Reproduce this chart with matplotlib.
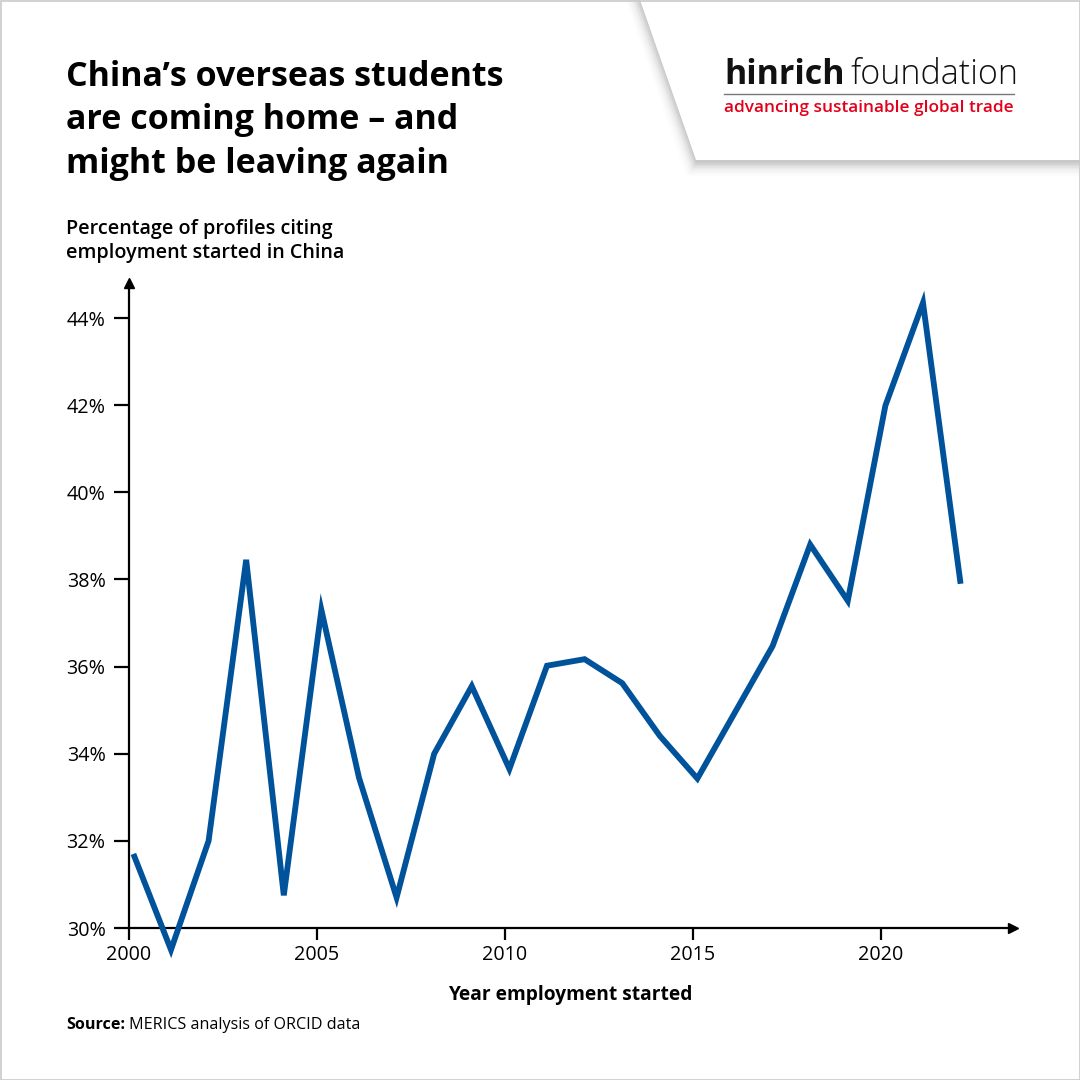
import matplotlib
matplotlib.use("Agg")
import matplotlib.pyplot as plt
from matplotlib.patches import Polygon, Rectangle
import numpy as np

plt.rcParams['font.family'] = ['Open Sans', 'DejaVu Sans']

# ---------------- data ----------------
years = [2000, 2001, 2002, 2003, 2004, 2005, 2006, 2007, 2008, 2009, 2010,
         2011, 2012, 2013, 2014, 2015, 2016, 2017, 2018, 2019, 2020, 2021, 2022]
share = [31.7, 29.5, 32.0, 38.45, 30.75, 37.3, 33.45, 30.7, 34.0, 35.55, 33.65,
         36.02, 36.17, 35.62, 34.41, 33.43, 34.95, 36.47, 38.8, 37.51, 41.99, 44.35, 37.9]
x_ticks = [2000, 2005, 2010, 2015, 2020]
y_ticks = [30, 32, 34, 36, 38, 40, 42, 44]

title = "China\u2019s overseas students\nare coming home \u2013 and\nmight be leaving again"
y_title = "Percentage of profiles citing\nemployment started in China"
x_title = "Year employment started"

LINE = "#00529B"
RED = "#E2001A"
W = 1080

fig = plt.figure(figsize=(10.8, 10.8), dpi=100)
fig.patch.set_facecolor("white")

def px(x, y):
    return x / W, 1 - y / W

# ---------------- logo box with shadow ----------------
bg = fig.add_axes([0, 0, 1, 1], zorder=0)
bg.set_xlim(0, W); bg.set_ylim(W, 0); bg.axis("off")
for i, a in enumerate(np.linspace(0.08, 0.01, 10)):
    d = 1 + i * 1.6
    bg.add_patch(Polygon([(640 - d, 0), (W, 0), (W, 162 + d), (697 - d * 0.7, 162 + d)],
                         closed=True, facecolor="#000000", alpha=a * 0.5, edgecolor="none"))
bg.add_patch(Polygon([(640, 0), (W, 0), (W, 160), (696, 160)], closed=True,
                     facecolor="white", edgecolor="none"))
bg.add_patch(Rectangle((0.5, 0.5), W - 1, W - 1, facecolor="none", edgecolor="#c9c9c9", lw=1.2))

# ---------------- main axes ----------------
x0, x1 = 128.5, 1013
y0, y1 = 928, 283
ax = fig.add_axes([x0 / W, 1 - y0 / W, (x1 - x0) / W, (y0 - y1) / W], zorder=2)
ax.set_facecolor("none")
x_off = 0.13
ax.plot(np.array(years) + x_off, share, color=LINE, lw=4.2, solid_joinstyle="miter",
        solid_capstyle="butt", clip_on=False, zorder=3)
ax.set_xlim(2000, 2000 + (x1 - x0) / 37.6)
ax.set_ylim(30, 30 + (y0 - y1) / 43.57)
for s in ["top", "right"]:
    ax.spines[s].set_visible(False)
for s in ["left", "bottom"]:
    ax.spines[s].set_linewidth(1.6)
    ax.spines[s].set_color("black")
ax.set_xticks(x_ticks)
ax.set_xticklabels([str(t) for t in x_ticks])
ax.set_yticks(y_ticks)
ax.set_yticklabels([f"{t}%" for t in y_ticks])
ax.tick_params(axis="y", length=11, width=1.6, pad=5.5, labelsize=14.2, colors="black")
ax.tick_params(axis="x", length=8.6, width=1.6, pad=4, labelsize=14.2, colors="black")
# arrowheads
ax.plot([0], [1], marker="^", ms=7, color="black", transform=ax.transAxes, clip_on=False)
ax.plot([1], [0], marker=">", ms=7, color="black", transform=ax.transAxes, clip_on=False)

# ---------------- texts ----------------
fig.text(*px(66, 60), title, fontsize=24.5, fontweight="bold", va="top", ha="left",
         linespacing=1.36, color="black")
fig.text(*px(66, 219), y_title, fontsize=14.2, fontweight="semibold", va="top", ha="left",
         linespacing=1.3, color="black")
fig.text(*px(570, 995), x_title, fontsize=13.8, fontweight="bold", va="center", ha="center")

r = fig.canvas.get_renderer()
t1 = fig.text(*px(66, 1025), "Source:", fontsize=11.6, fontweight="bold", va="center", ha="left")
bb = t1.get_window_extent(r)
fig.text(bb.x1 / W + 4 / W, 1 - 1025 / W, "MERICS analysis of ORCID data", fontsize=11.6,
         va="center", ha="left")

# logo text
h1 = fig.text(*px(724, 75), "hinrich", fontsize=24.5, fontweight="bold", va="center", ha="left",
              color="#111111")
bb = h1.get_window_extent(r)
fig.text(bb.x1 / W + 6 / W, 1 - 75 / W, "foundation", fontsize=24.5, fontweight="light",
         va="center", ha="left", color="#111111")
bg.plot([724, 1014], [94, 94], color="#777777", lw=1.0)
fig.text(*px(724, 108), "advancing sustainable global trade", fontsize=12.4, fontweight="semibold",
         va="center", ha="left", color=RED)

fig.savefig("out.png", dpi=100, facecolor="white")
